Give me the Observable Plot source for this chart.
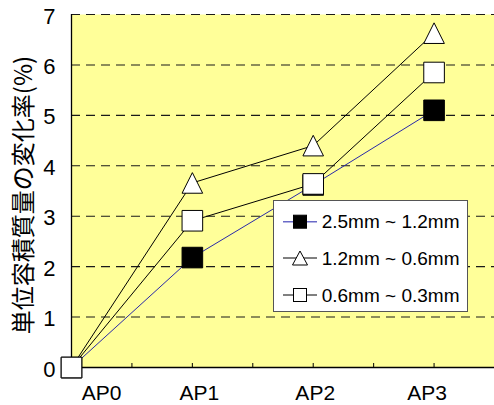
<!DOCTYPE html>
<html><head><meta charset="utf-8">
<script src="https://cdn.jsdelivr.net/npm/d3@7"></script>
<script src="https://cdn.jsdelivr.net/npm/@observablehq/plot@0.6"></script>
<style>
body{margin:0;background:#fff;}
#wrap{position:relative;width:494px;height:405px;}
#legend{position:absolute;left:273px;top:200px;}
</style></head><body><div id="wrap"></div>
<script>
const categories = ["AP0", "AP1", "AP2", "AP3"];
const seriesNames = ["2.5mm ~ 1.2mm", "1.2mm ~ 0.6mm", "0.6mm ~ 0.3mm"];
const series1 = [0, 2.18, 3.62, 5.10];
const series2 = [0, 3.66, 4.40, 6.63];
const series3 = [0, 2.91, 3.64, 5.85];
const yTicks = [0, 1, 2, 3, 4, 5, 6, 7];
const yTitle = "単位容積質量の変化率(%)";

const seriesValues = [series1, series2, series3];
const seriesStroke = ["#2a2aa8", "#000", "#000"];
const seriesFill = ["#000", "#fff", "#fff"];
const seriesShape = ["square", "triangle", "square"];

const symSquare = {draw(ctx, size) { const r = Math.sqrt(size / Math.PI); ctx.moveTo(-r, -r); ctx.lineTo(r, -r); ctx.lineTo(r, r); ctx.lineTo(-r, r); ctx.closePath(); }};
const symTri = {draw(ctx, size) { const r = Math.sqrt(size / Math.PI); ctx.moveTo(0, -r); ctx.lineTo(r, r); ctx.lineTo(-r, r); ctx.closePath(); }};
const symbols = {square: symSquare, triangle: symTri};

const table = [];
seriesValues.forEach((vals, s) => vals.forEach((v, i) => table.push({s, i, v, cat: categories[i]})));

const catIndex = categories.map((c, i) => i);
const minorTicks = d3.range(0.5, 3.51, 0.5);
const labelNudge = [30, 7, 2, -7];

const lineMarks = seriesValues.map((vals, s) =>
  Plot.line(table.filter(d => d.s === s), {x: "i", y: "v", stroke: seriesStroke[s], strokeWidth: 1}));
const dotMarks = seriesValues.map((vals, s) =>
  Plot.dot(table.filter(d => d.s === s), {x: "i", y: "v", symbol: symbols[seriesShape[s]], r: 10.3, fill: seriesFill[s], stroke: "#000", strokeWidth: 1}));

const chart = Plot.plot({
  width: 494, height: 405,
  marginLeft: 71, marginRight: 0, marginTop: 14, marginBottom: 38,
  style: {fontFamily: "'Liberation Sans', Arial, sans-serif", fontSize: "22px", background: "transparent", color: "#000"},
  x: {type: "linear", domain: [0, 3.5], axis: null},
  y: {domain: [0, 7], axis: null},
  marks: [
    Plot.frame({fill: "#FFFF99", stroke: null}),
    Plot.ruleY(yTicks.filter(t => t > 0), {stroke: "#1a1a1a", strokeDasharray: "9,6", strokeWidth: 1.1}),
    Plot.ruleX([0], {stroke: "#000", strokeWidth: 1.3}),
    Plot.ruleY([0], {stroke: "#000", strokeWidth: 1.3}),
    Plot.axisX({ticks: minorTicks, tickSize: -4, tickFormat: () => "", label: null, stroke: "#000"}),
    ...lineMarks,
    ...dotMarks,
    Plot.axisY({ticks: yTicks, tickSize: 0, tickPadding: 16, fontSize: 22, dy: 2, label: null, tickFormat: d => d}),
    ...categories.map((c, i) => Plot.text([c], {x: () => catIndex[i], y: () => 0, text: d => d, dy: 18, dx: labelNudge[i], lineAnchor: "top", fontSize: 21})),
    Plot.text([yTitle], {frameAnchor: "left", textAnchor: "middle", rotate: -90, dx: -47, dy: 4, fontSize: 24, fontFamily: "'Noto Sans CJK JP', sans-serif", text: d => d})
  ]
});
document.getElementById("wrap").appendChild(chart);

// legend overlay
const lg = d3.select("#wrap").append("svg").attr("id", "legend").attr("width", 196).attr("height", 113);
lg.append("rect").attr("x", 0.5).attr("y", 0.5).attr("width", 194).attr("height", 111).attr("fill", "#fff").attr("stroke", "#555");
const rowY = [21.7, 58, 95];
seriesNames.forEach((name, s) => {
  const y = rowY[s];
  lg.append("line").attr("x1", 10).attr("x2", 44).attr("y1", y).attr("y2", y).attr("stroke", s === 0 ? "#6a6ac8" : "#000").attr("stroke-width", s === 0 ? 1.6 : 1);
  if (seriesShape[s] === "square") {
    lg.append("rect").attr("x", 27 - 6.5).attr("y", y - 6.5).attr("width", 13).attr("height", 13).attr("fill", seriesFill[s]).attr("stroke", "#000");
  } else {
    lg.append("path").attr("d", `M27,${y - 7}L34.5,${y + 7}L19.5,${y + 7}Z`).attr("fill", "#fff").attr("stroke", "#000");
  }
  lg.append("text").attr("x", 48.7).attr("y", y).attr("dy", "0.35em").attr("font-size", 19).attr("font-family", "'Liberation Sans', Arial, sans-serif").text(name);
});
</script></body></html>
